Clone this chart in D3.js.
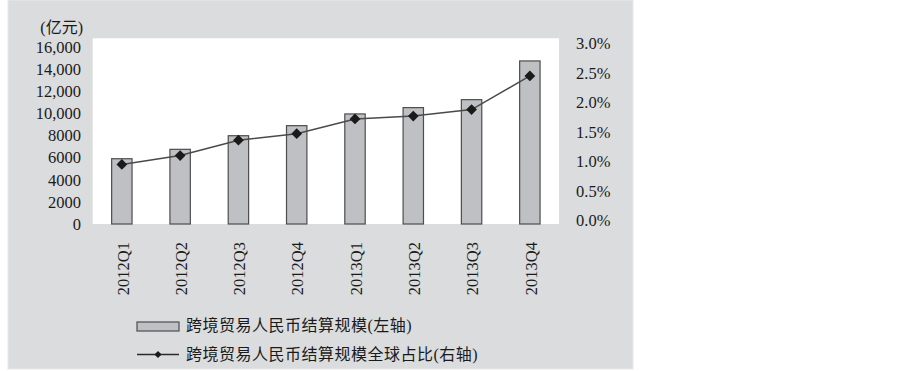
<!DOCTYPE html>
<html><head><meta charset="utf-8">
<script src="https://cdn.jsdelivr.net/npm/d3@7"></script>
<style>html,body{margin:0;padding:0;background:#fff;}</style>
</head><body>
<svg id="c" width="903" height="371"></svg>
<script>
const categories = ["2012Q1","2012Q2","2012Q3","2012Q4","2013Q1","2013Q2","2013Q3","2013Q4"];
const settlement = [5900, 6750, 7980, 8890, 9950, 10520, 11240, 14740];
const globalShare = [1.01, 1.16, 1.42, 1.53, 1.78, 1.83, 1.94, 2.51];
const leftTicks = [0,2000,4000,6000,8000,10000,12000,14000,16000];
const rightTicks = [0,0.5,1.0,1.5,2.0,2.5,3.0];
const unitLabel = "(亿元)";
const legendLabels = ["跨境贸易人民币结算规模(左轴)","跨境贸易人民币结算规模全球占比(右轴)"];

const svg = d3.select("#c");
const serif = "'Liberation Serif','Times New Roman','Noto Sans CJK SC',serif";
const textColor = "#1a1a1a";
const barFill = "#bfc0c3", barStroke = "#4d4d4d";

// panel background
svg.append("rect").attr("x",8).attr("y",0).attr("width",625).attr("height",369)
  .attr("fill","#dbdcde").attr("stroke","#e8e8e8").attr("stroke-width",1);

const plot = {left:92.7, right:559, top:38.3, bottom:224};
svg.append("rect").attr("x",plot.left).attr("y",plot.top)
  .attr("width",plot.right-plot.left).attr("height",plot.bottom-plot.top).attr("fill","#fff");

const x = d3.scaleBand().domain(categories).range([plot.left, plot.right])
  .paddingInner(0.65).paddingOuter(0.325);
const yL = d3.scaleLinear().domain([0,16000]).range([224,47]);
const yR = d3.scaleLinear().domain([0,3]).range([224,47]);

// left axis
const fmtL = v => v >= 10000 ? d3.format(",")(v) : String(v);
const axL = d3.axisLeft(yL).tickValues(leftTicks).tickFormat(fmtL).tickSize(0).tickPadding(0);
const gL = svg.append("g").attr("transform","translate(81,0)").call(axL);
gL.select(".domain").remove();
gL.selectAll("text").attr("font-family",serif).attr("font-size",16.5).attr("fill",textColor);

// right axis
const axR = d3.axisRight(yR).tickValues(rightTicks).tickFormat(v => d3.format(".1f")(v)+"%").tickSize(0).tickPadding(0);
const gR = svg.append("g").attr("transform","translate(576,0)").call(axR);
gR.select(".domain").remove();
gR.selectAll("text").attr("font-family",serif).attr("font-size",16.5).attr("fill",textColor).attr("dy","0.1em");

// unit label
svg.append("text").attr("x",83).attr("y",27).attr("dy","0.35em").attr("text-anchor","end")
  .attr("font-family",serif).attr("font-size",16).attr("fill",textColor).text(unitLabel);

// bars
svg.append("g").selectAll("rect").data(categories).join("rect")
  .attr("x",d=>x(d)).attr("width",x.bandwidth())
  .attr("y",(d,i)=>yL(settlement[i])).attr("height",(d,i)=>yL(0)-yL(settlement[i]))
  .attr("fill",barFill).attr("stroke",barStroke).attr("stroke-width",1.2);

// line
const cx = d => x(d)+x.bandwidth()/2;
svg.append("path").datum(categories)
  .attr("d", d3.line().x(d=>cx(d)).y((d,i)=>yR(globalShare[i])))
  .attr("fill","none").attr("stroke","#4a4a4a").attr("stroke-width",1.5);
const diamond = d3.symbol().type(d3.symbolSquare).size(58);
svg.append("g").selectAll("path").data(categories).join("path")
  .attr("transform",(d,i)=>`translate(${cx(d)},${yR(globalShare[i])}) rotate(45)`)
  .attr("d",diamond).attr("fill","#1a1a1a");

// x labels
svg.append("g").selectAll("text").data(categories).join("text")
  .attr("transform",d=>`translate(${cx(d)+1},242) rotate(-90)`)
  .attr("text-anchor","end").attr("dy","0.35em")
  .attr("font-family",serif).attr("font-size",16.5).attr("fill",textColor).text(d=>d);

// legend
const lg = svg.append("g");
lg.append("rect").attr("x",137).attr("y",322).attr("width",42).attr("height",9)
  .attr("fill",barFill).attr("stroke",barStroke).attr("stroke-width",1.2);
lg.append("line").attr("x1",137).attr("x2",179).attr("y1",354.5).attr("y2",354.5)
  .attr("stroke","#2a2a2a").attr("stroke-width",1.5);
lg.append("path").attr("transform","translate(158,354.5) rotate(45)")
  .attr("d",d3.symbol().type(d3.symbolSquare).size(26)).attr("fill","#1a1a1a");
lg.selectAll("text").data(legendLabels).join("text")
  .attr("x",186).attr("y",(d,i)=>i===0?325:354).attr("dy","0.35em")
  .attr("font-family",serif).attr("font-size",16).attr("letter-spacing","0.5px")
  .attr("fill",textColor).text(d=>d);
</script>
</body></html>
